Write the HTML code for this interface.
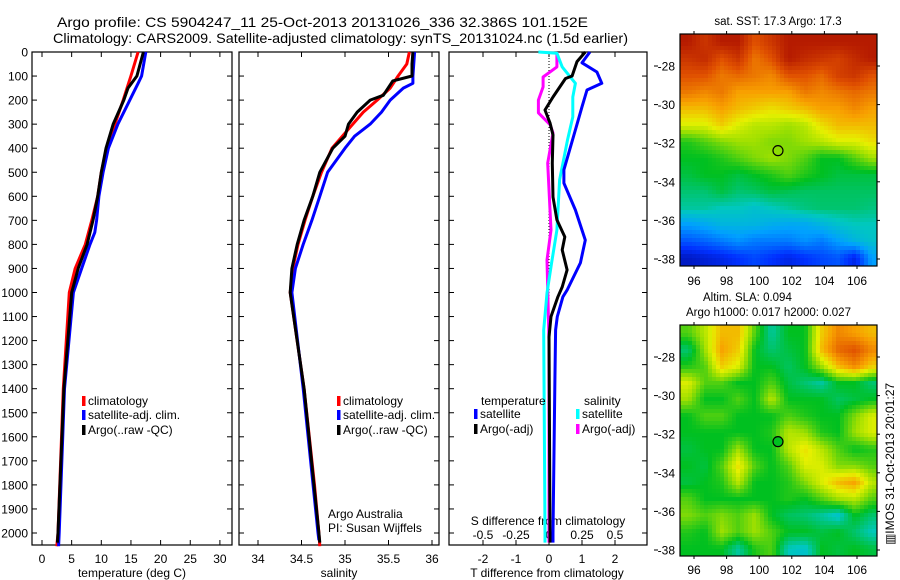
<!DOCTYPE html>
<html><head><meta charset="utf-8"><style>
body{margin:0;background:#fff;}
svg{display:block;font-family:"Liberation Sans",sans-serif;}
</style></head><body>
<svg id="fig" width="900" height="580" viewBox="0 0 900 580" xmlns="http://www.w3.org/2000/svg">
<text x="57" y="27" font-size="14" textLength="531" lengthAdjust="spacingAndGlyphs">Argo profile: CS 5904247_11 25-Oct-2013 20131026_336 32.386S 101.152E</text>
<text x="53" y="43" font-size="14" textLength="575" lengthAdjust="spacingAndGlyphs">Climatology: CARS2009. Satellite-adjusted climatology: synTS_20131024.nc (1.5d earlier)</text>
<text x="778" y="25" font-size="11.5" text-anchor="middle">sat. SST: 17.3 Argo: 17.3</text>
<text x="703" y="301" font-size="11.5">Altim. SLA: 0.094</text>
<text x="686" y="316" font-size="11.5">Argo h1000: 0.017 h2000: 0.027</text>
<text transform="translate(894,464) rotate(-90)" font-size="12" text-anchor="middle">▥IMOS 31-Oct-2013 20:01:27</text>
<g id="plots"></g>
</svg>
<script>
// ---- profile data (depth in dbar) ----
const tDepth = [0,100,200,300,400,500,600,700,800,900,1000,1400,2000,2055];
const tClim  = [16.2,15.0,13.7,12.3,10.9,10.0,9.4,8.4,7.3,5.6,4.6,3.6,2.7,2.5];
const tSatDepth = [0,100,130,200,300,400,500,600,700,750,800,900,1000,1400,2000,2055];
const tSat   = [17.5,16.8,16.2,14.8,12.8,11.2,10.3,9.6,9.2,8.9,8.1,6.7,5.3,3.8,2.9,2.8];
const tArgoDepth = [0,100,150,200,300,400,500,600,700,800,900,1000,1400,2000,2040];
const tArgo  = [17.1,16.0,14.5,13.8,12.0,10.8,10.0,9.4,8.6,7.6,6.1,5.0,3.7,2.7,2.6];

const sClimDepth = [0,50,100,150,200,250,300,400,500,600,700,800,900,1000,1400,1600,1800,2000,2055];
const sClim = [35.74,35.71,35.61,35.52,35.37,35.21,35.09,34.85,34.73,34.63,34.54,34.46,34.40,34.37,34.53,34.59,34.65,34.70,34.71];
const sSatDepth = [0,100,130,150,200,250,300,350,400,500,600,700,800,900,1000,1400,2000,2030];
const sSat = [35.80,35.78,35.78,35.67,35.52,35.42,35.29,35.11,35.00,34.80,34.71,34.62,34.52,34.43,34.39,34.52,34.69,34.70];
const sArgoDepth = [0,50,100,120,180,200,250,300,350,400,500,600,700,800,900,1000,1400,2000,2040];
const sArgo = [35.78,35.77,35.77,35.55,35.44,35.29,35.14,35.04,35.00,34.86,34.71,34.63,34.53,34.45,34.39,34.37,34.53,34.70,34.71];

// ---- difference panel data ----
const dTSatDepth = [0,45,83,130,158,228,324,490,545,657,782,877,990,1018,1100,1156,1364,2000,2040];
const dTSat = [1.24,1.0,1.45,1.6,1.15,1.0,0.8,0.45,0.45,0.8,1.1,0.95,0.55,0.42,0.25,0.2,0.18,0.12,0.12];
const dTArgoDepth = [0,40,100,110,187,241,295,345,462,603,698,769,823,906,977,1018,1100,1185,2000,2040];
const dTArgo = [1.1,0.85,0.7,0.5,0.12,-0.12,0.03,0.12,0.1,0.12,0.24,0.48,0.4,0.55,0.4,0.27,0.06,0.0,0.03,0.03];
const dSSatDepth = [0,5,62,130,187,270,366,532,740,877,1002,1156,2000,2040];
const dSSat = [-0.08,0.06,0.1,0.2,0.18,0.18,0.14,0.08,0.06,0.02,-0.015,-0.04,-0.03,-0.03];
const dSArgoDepth = [0,62,104,145,200,253,303,337,462,740,865,1200,2000,2040];
const dSArgo = [0.06,0.06,-0.045,-0.045,-0.08,-0.08,0.01,0.03,-0.01,0.015,-0.015,0.0,0.0,0.0];

// ---- tick labels ----
const depthTicks = [0,100,200,300,400,500,600,700,800,900,1000,1100,1200,1300,1400,1500,1600,1700,1800,1900,2000];
const tempTicks = [0,5,10,15,20,25,30];
const salTicks = [34,34.5,35,35.5,36];
const salTickLabels = ["34","34.5","35","35.5","36"];
const tdTicks = [-2,-1,0,1,2];
const sdTicks = [-0.5,-0.25,0,0.25,0.5];
const sdTickLabels = ["-0.5","-0.25","0","0.25","0.5"];
const latTicks = [-28,-30,-32,-34,-36,-38];
const lonTicks = [96,98,100,102,104,106];

// ---- map grids (normalized colour index, rows north->south) ----
const sstGrid = [
[.95,.9,.95,.95,.85,.9,.95,.95,.95,.95,.95,.95],
[.9,.92,.85,.9,.8,.85,.95,.92,.9,.88,.92,.95],
[.85,.85,.8,.82,.8,.78,.85,.85,.82,.88,.9,.85],
[.8,.78,.8,.75,.75,.75,.75,.8,.78,.8,.82,.8],
[.72,.72,.75,.72,.7,.68,.7,.72,.75,.75,.78,.75],
[.65,.65,.7,.65,.62,.62,.6,.62,.68,.72,.72,.72],
[.52,.55,.58,.6,.6,.58,.58,.6,.62,.65,.65,.68],
[.5,.5,.52,.55,.58,.6,.58,.55,.5,.5,.55,.6],
[.48,.5,.5,.48,.5,.52,.55,.52,.5,.48,.48,.48],
[.45,.45,.48,.45,.46,.48,.47,.46,.46,.46,.46,.46],
[.42,.42,.4,.4,.38,.4,.42,.44,.45,.45,.45,.44],
[.3,.32,.35,.35,.35,.33,.32,.32,.35,.38,.4,.4],
[.2,.22,.25,.28,.25,.25,.25,.28,.25,.3,.35,.38],
[.08,.1,.12,.15,.18,.15,.12,.15,.18,.2,.12,.3]];
const slaGrid = [
[.55,.62,.72,.72,.55,.42,.5,.5,.7,.78,.75,.72],
[.45,.6,.75,.7,.5,.45,.48,.5,.72,.82,.85,.78],
[.52,.55,.7,.65,.5,.5,.46,.5,.6,.72,.78,.7],
[.65,.55,.55,.5,.5,.55,.48,.45,.42,.5,.5,.45],
[.6,.5,.5,.55,.5,.62,.5,.5,.5,.46,.48,.5],
[.5,.55,.55,.5,.5,.5,.55,.52,.5,.5,.58,.65],
[.5,.5,.5,.5,.5,.52,.62,.6,.52,.5,.6,.65],
[.48,.5,.5,.6,.5,.5,.62,.68,.62,.55,.5,.52],
[.5,.48,.55,.68,.55,.5,.55,.65,.65,.58,.58,.55],
[.48,.5,.52,.62,.5,.5,.52,.58,.65,.72,.75,.62],
[.55,.5,.5,.5,.5,.5,.52,.5,.55,.6,.62,.55],
[.58,.55,.58,.55,.6,.5,.46,.45,.42,.38,.5,.45],
[.52,.5,.6,.55,.6,.55,.5,.5,.48,.5,.45,.4],
[.5,.5,.5,.42,.52,.55,.4,.38,.5,.48,.5,.48]];
const argoLon = 101.152, argoLat = -32.386;

const NS = "http://www.w3.org/2000/svg";
const G = document.getElementById('plots');
function el(tag, attrs, parent){const e=document.createElementNS(NS,tag);for(const k in attrs)e.setAttribute(k,attrs[k]);(parent||G).appendChild(e);return e;}

const TOP=52, BOT=545;
const yD = d => TOP + d*0.2405;
const xT = t => 42 + t*5.93;
const xS = s => 258 + (s-34)*87;
const xTD = v => 549 + v*33;
const xSD = v => 549 + v*132;

function box(x0,x1,name){
  const r=el('rect',{x:x0,y:TOP,width:x1-x0,height:BOT-TOP,fill:'none',stroke:'#000','stroke-width':1.2});
  
  
}
const panels=[[32,232,'temperature-panel'],[239,439,'salinity-panel'],[449,647,'difference-panel']];
panels.forEach(p=>{
  box(p[0],p[1],p[2]);
  depthTicks.forEach(d=>{
    el('line',{x1:p[0],x2:p[0]+5,y1:yD(d),y2:yD(d),stroke:'#000'});
    el('line',{x1:p[1]-5,x2:p[1],y1:yD(d),y2:yD(d),stroke:'#000'});
  });
});
depthTicks.forEach(d=>{
  const t=el('text',{x:28,y:yD(d)+4.5,'font-size':12,'text-anchor':'end'});
  t.textContent=d;
  
  
});
function xticks(ticks,labels,fx,ly){
  ticks.forEach((v,i)=>{
    const x=fx(v);
    el('line',{x1:x,x2:x,y1:TOP,y2:TOP+5,stroke:'#000'});
    el('line',{x1:x,x2:x,y1:BOT-5,y2:BOT,stroke:'#000'});
    const t=el('text',{x:x,y:ly,'font-size':12,'text-anchor':'middle'});
    t.textContent=labels[i];
    
    
  });
}
xticks(tempTicks,tempTicks,xT,563);
xticks(salTicks,salTickLabels,xS,563);
xticks(tdTicks,tdTicks,xTD,563);
sdTicks.forEach((v,i)=>{
  const t=el('text',{x:xSD(v),y:539,'font-size':12,'text-anchor':'middle'});
  t.textContent=sdTickLabels[i];
  
  
});
function label(x,y,txt,name,anchor){
  const t=el('text',{x:x,y:y,'font-size':12,'text-anchor':anchor||'start'});
  t.textContent=txt;
  
  
}
label(132,577,'temperature (deg C)','temperature-axis-title','middle');
label(339,577,'salinity','salinity-axis-title','middle');
label(547,577,'T difference from climatology','t-diff-axis-title','middle');
label(548,525,'S difference from climatology','s-diff-axis-title','middle');
label(328,518,'Argo Australia','credit-line-1');
label(328,532,'PI: Susan Wijffels','credit-line-2');

// zero line
el('line',{x1:549,x2:549,y1:TOP,y2:300,stroke:'#000','stroke-dasharray':'1,2'});

function series(depths,vals,fx,color,name){
  const pts=depths.map((d,i)=>fx(vals[i]).toFixed(1)+','+yD(d).toFixed(1)).join(' ');
  const p=el('polyline',{points:pts,fill:'none',stroke:color,'stroke-width':3,'stroke-linejoin':'round'});
  
  
}
series(tDepth,tClim,xT,'#ff0000','temp-climatology-line');
series(tSatDepth,tSat,xT,'#0000ff','temp-satellite-line');
series(tArgoDepth,tArgo,xT,'#000','temp-argo-line');
series(sClimDepth,sClim,xS,'#ff0000','sal-climatology-line');
series(sSatDepth,sSat,xS,'#0000ff','sal-satellite-line');
series(sArgoDepth,sArgo,xS,'#000','sal-argo-line');
series(dSArgoDepth,dSArgo,xSD,'#ff00ff','s-diff-argo-line');
series(dSSatDepth,dSSat,xSD,'#00ffff','s-diff-satellite-line');
series(dTArgoDepth,dTArgo,xTD,'#000','t-diff-argo-line');
series(dTSatDepth,dTSat,xTD,'#0000ff','t-diff-satellite-line');

function legendEntry(x,y,color,txt){
  const r=el('rect',{x:x-2,y:y-9,width:3.5,height:10,fill:color});
  
  
  label(x+4,y,txt,'legend-entry');
}
[84,339].forEach(x=>{
  legendEntry(x,405,'#ff0000','climatology');
  legendEntry(x,419,'#0000ff','satellite-adj. clim.');
  legendEntry(x,434,'#000','Argo(..raw -QC)');
});
label(481,405,'temperature','legend-temp-header');
label(584,405,'salinity','legend-sal-header');
legendEntry(476,418,'#0000ff','satellite');
legendEntry(476,433,'#000','Argo(-adj)');
legendEntry(578,418,'#00ffff','satellite');
legendEntry(578,433,'#ff00ff','Argo(-adj)');

// ---- maps ----
const stops=[[0,[0,0,128]],[0.15,[0,48,255]],[0.3,[0,160,255]],[0.4,[0,200,190]],[0.5,[0,192,32]],[0.6,[160,224,0]],[0.66,[230,240,0]],[0.75,[248,160,0]],[0.85,[224,80,0]],[1,[160,0,0]]];
function cmap(v){
  for(let i=1;i<stops.length;i++){if(v<=stops[i][0]){const a=stops[i-1],b=stops[i],f=(v-a[0])/(b[0]-a[0]);return 'rgb('+a[1].map((c,j)=>Math.round(c+(b[1][j]-c)*f)).join(',')+')';}}
  return 'rgb(160,0,0)';
}
function sample(grid,u,v){
  const rows=grid.length, cols=grid[0].length;
  const fx=Math.min(Math.max(u*cols-0.5,0),cols-1), fy=Math.min(Math.max(v*rows-0.5,0),rows-1);
  const c0=Math.floor(fx), r0=Math.floor(fy), c1=Math.min(c0+1,cols-1), r1=Math.min(r0+1,rows-1);
  const ax=fx-c0, ay=fy-r0;
  return (grid[r0][c0]*(1-ax)+grid[r0][c1]*ax)*(1-ay)+(grid[r1][c0]*(1-ax)+grid[r1][c1]*ax)*ay;
}
function drawMap(grid,x0,y0,x1,y1,lat28,lat38,name,fillMark,lonLabelY){
  const g=el('g',{});
  
  
  const px=4, nx=Math.ceil((x1-x0)/px), ny=Math.ceil((y1-y0)/px);
  for(let j=0;j<ny;j++)for(let i=0;i<nx;i++){
    const val=sample(grid,(i+0.5)/nx,(j+0.5)/ny);
    const w=Math.min(px,x1-x0-i*px), h=Math.min(px,y1-y0-j*px);
    const cell=el('rect',{x:x0+i*px,y:y0+j*px,width:w+0.4,height:h+0.4,fill:cmap(val)},g);
    
    
  }
  el('rect',{x:x0,y:y0,width:x1-x0,height:y1-y0,fill:'none',stroke:'#000','stroke-width':1.2},g);
  const yL=lat=>lat28+(lat+28)*(lat38-lat28)/(-10);
  const xL=lon=>694+(lon-96)*16.3;
  latTicks.forEach(l=>{
    el('line',{x1:x1,x2:x1+3,y1:yL(l),y2:yL(l),stroke:'#000'},g);
    el('line',{x1:654,x2:658,y1:yL(l),y2:yL(l),stroke:'#000'},g);
    const t=el('text',{x:675,y:yL(l)+4.5,'font-size':12,'text-anchor':'end'},g);
    t.textContent=l;
    
    
  });
  lonTicks.forEach(l=>{
    el('line',{x1:xL(l),x2:xL(l),y1:y1,y2:y1+3,stroke:'#000'},g);
    el('line',{x1:xL(l),x2:xL(l),y1:y0-3,y2:y0,stroke:'#000'},g);
    const t=el('text',{x:xL(l),y:lonLabelY,'font-size':12,'text-anchor':'middle'},g);
    t.textContent=l;
    
    
  });
  const m=el('circle',{cx:xL(argoLon),cy:yL(argoLat),r:5,fill:fillMark,stroke:'#000','stroke-width':1.2},g);
  
  
}
drawMap(sstGrid,680,34,877,266,66,259,'sst-map','none',285);
drawMap(slaGrid,680,325,877,556,357,550,'sla-map','#00c020',574);
</script>
</body></html>
